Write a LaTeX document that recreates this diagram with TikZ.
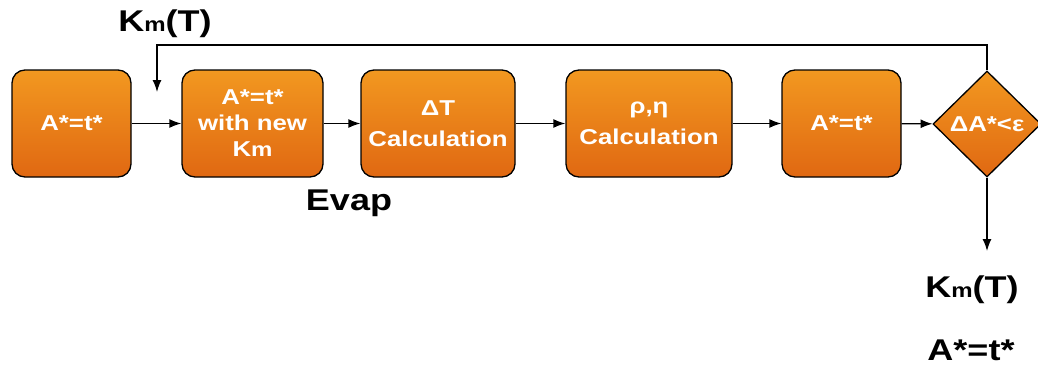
\documentclass[tikz,border=0pt]{standalone}
\usepackage{fontspec}
\setmainfont[FakeStretch=1.2]{Liberation Sans}
\usepackage{tikz}
\usetikzlibrary{positioning,arrows.meta,shapes.geometric}
\usepackage{xcolor}
\definecolor{orangetop}{RGB}{242,152,32}
\definecolor{orangebot}{RGB}{224,104,18}
\newcommand{\Km}{K{\fontsize{20}{20}\selectfont m}}

\tikzset{
  stage/.style={draw=black,line width=1.3pt,rounded corners=13pt,top color=orangetop,bottom color=orangebot,
    text=white,align=center,inner sep=0pt,minimum height=107pt,font=\fontsize{21.5}{26}\selectfont\bfseries},
  check/.style={diamond,draw=black,line width=1.3pt,top color=orangetop,bottom color=orangebot,
    text=white,inner sep=0pt,minimum width=108pt,minimum height=106pt,font=\fontsize{21.5}{26}\selectfont\bfseries},
  biglabel/.style={anchor=base,inner sep=0pt,font=\fontsize{30}{30}\selectfont\bfseries},
}

\begin{document}
\begin{tikzpicture}[x=1pt,y=-1pt,>={Latex[length=12pt,width=9pt]},line width=1.3pt]
\useasboundingbox (0,0) rectangle (1038,369);
\node[stage,minimum width=119pt] (init) at (71.5,123.5) {A*=t*};
\node[stage,minimum width=141pt] (newkm) at (252.5,123.5) {A*=t*\\with new\\\Km};
\node[stage,minimum width=154pt] (dT) at (438,123.5) {ΔT\\[4.5pt]Calculation};
\node[stage,minimum width=166pt] (rhoeta) at (649,123.5) {ρ,η\\[4.5pt]Calculation};
\node[stage,minimum width=119pt] (again) at (841.5,123.5) {A*=t*};
\node[check] (conv) at (987,124) {ΔA*<ε};
\node[biglabel] (kmfb) at (165,32) {\Km(T)};
\node[biglabel] (evap) at (349,210) {Evap};
\node[biglabel] (kmout) at (972,297) {\Km(T)};
\node[biglabel] (aout) at (971,360) {A*=t*};
\coordinate (fbtop) at (157,45);
\coordinate (fbend) at (157,92);
\coordinate (outend) at (987,251);

\draw[->] (init) -- (newkm);
\draw[->] (newkm) -- (dT);
\draw[->] (dT) -- (rhoeta);
\draw[->] (rhoeta) -- (again);
\draw[->] (again) -- (conv);
\draw[->] (conv.north) |- (fbtop) -- (fbend);
\draw[->] (conv.south) -- (outend);
\end{tikzpicture}
\end{document}
